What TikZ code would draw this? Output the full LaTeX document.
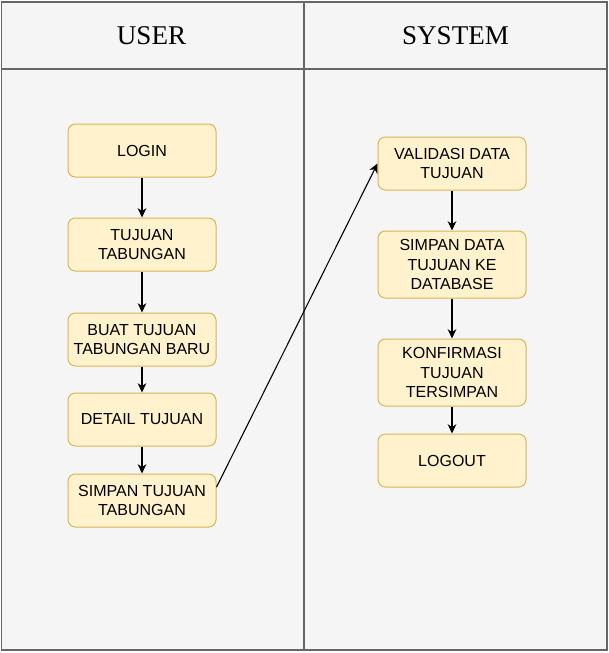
\documentclass[tikz,border=0pt]{standalone}
\usepackage{fontspec}
\setmainfont{Liberation Serif}
\setsansfont{Liberation Sans}
\usetikzlibrary{arrows.meta}

\definecolor{lanebg}{HTML}{F5F5F5}
\definecolor{laneline}{HTML}{666666}
\definecolor{taskbg}{HTML}{FFF2CC}
\definecolor{taskline}{HTML}{D6B656}

\begin{document}
\begin{tikzpicture}[x=0.75pt,y=-0.75pt,
        lane/.style={draw=laneline,fill=lanebg,line width=0.9pt},
        head/.style={font=\fontsize{20.3}{24}\selectfont},
        task/.style={draw=taskline,fill=taskbg,rounded corners=5.5pt,line width=0.75pt,
            minimum width=111pt,minimum height=39.75pt,inner sep=1pt,align=center,
            font=\sffamily\fontsize{12}{14.4}\selectfont},
        tall/.style={task,minimum height=50.25pt},
        flow/.style={line width=0.8pt,-{Stealth[length=7pt,width=6.5pt,inset=2.2pt]}}
    ]
        \useasboundingbox (0,0) rectangle (608,653);

        % Swimlanes
        \draw[lane] (1.5,2) rectangle (304,69);
        \draw[lane] (304,2) rectangle (607,69);
        \draw[lane] (1.5,69) rectangle (304,650);
        \draw[lane] (304,69) rectangle (607,650);
        \node[head] (user) at (151.5,36) {USER};
        \node[head] (system) at (455.5,36) {SYSTEM};

        % Define the nodes
        \node[task] (login) at (142,150.5) {LOGIN};
        \node[task] (tujuan) at (142,244.5) {TUJUAN\\TABUNGAN};
        \node[task] (buat) at (142,339.5) {BUAT TUJUAN\\TABUNGAN BARU};
        \node[task] (detail) at (142,419.5) {DETAIL TUJUAN};
        \node[task] (simpan) at (142,500.5) {SIMPAN TUJUAN\\TABUNGAN};

        \node[task] (validasi) at (452,163.5) {VALIDASI DATA\\TUJUAN};
        \node[tall] (database) at (452,264.5) {SIMPAN DATA\\TUJUAN KE\\DATABASE};
        \node[tall] (konfirmasi) at (452,372.5) {KONFIRMASI\\TUJUAN\\TERSIMPAN};
        \node[task] (logout) at (452,460.5) {LOGOUT};

        % Connect the steps
        \draw[flow] (login) -- (tujuan);
        \draw[flow] (tujuan) -- (buat);
        \draw[flow] (buat) -- (detail);
        \draw[flow] (detail) -- (simpan);
        \draw[flow] ([yshift=10pt]simpan.east) -- (validasi.west);
        \draw[flow] (validasi) -- (database);
        \draw[flow] (database) -- (konfirmasi);
        \draw[flow] (konfirmasi) -- (logout);
    \end{tikzpicture}
\end{document}
